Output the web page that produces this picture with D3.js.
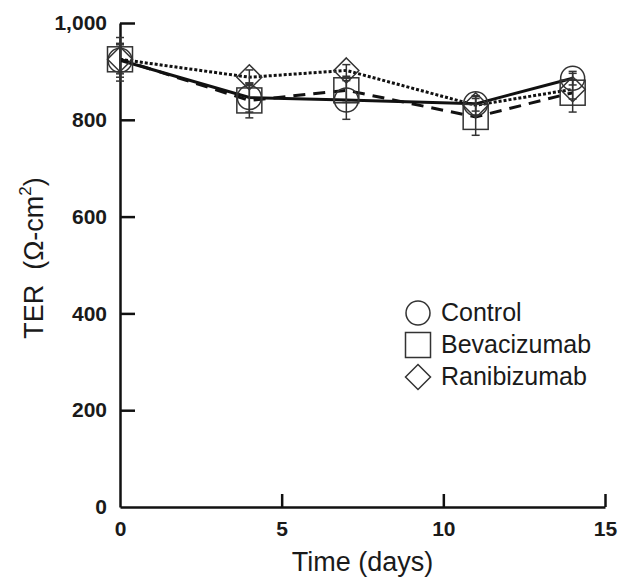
<!DOCTYPE html>
<meta charset="utf-8">
<style>
body { margin: 0; background: #fff; }
svg { font-family: "Liberation Sans", Arial, sans-serif; }
.axis path, .axis line { stroke: #111; stroke-width: 2.5px; }
.axis text { font-size: 21px; font-weight: bold; fill: #1a1a1a; }
.title { font-size: 27px; fill: #1a1a1a; }
.legend text { font-size: 25px; fill: #1a1a1a; }
</style>
<body>
<script src="https://d3js.org/d3.v7.min.js"></script>
<script>

// days measured
var days = [0, 4, 7, 11, 14];

var seriesNames = ["Control", "Bevacizumab", "Ranibizumab"];
var control = [923, 846, 841, 833, 886];
var controlErr = [35, 30, 40, 15, 14];
var bevacizumab = [925, 840, 861, 806, 856];
var bevacizumabErr = [45, 36, 25, 38, 40];
var ranibizumab = [925, 888, 902, 830, 863];
var ranibizumabErr = [30, 15, 12, 20, 20];

var xTicks = [0, 5, 10, 15];
var yTicks = [0, 200, 400, 600, 800, 1000];

var w = 628, h = 581;
var margin = {top: 23, right: 23, bottom: 74, left: 120},
    width = w - margin.left - margin.right,
    height = h - margin.top - margin.bottom;

var svg = d3.select("body").append("svg")
    .attr("width", w)
    .attr("height", h);

var g = svg.append("g")
    .attr("transform", "translate(" + margin.left + "," + margin.top + ")");

var x = d3.scaleLinear().domain([0, 15]).range([0, width]);
var y = d3.scaleLinear().domain([0, 1000]).range([height, 0]);

// axes, ticks pointing inward
g.append("g")
    .attr("class", "axis")
    .attr("transform", "translate(0," + height + ")")
    .call(d3.axisBottom(x).tickValues(xTicks).tickSizeInner(-13).tickSizeOuter(0).tickPadding(14))
    .call(function(a) { a.selectAll(".tick").filter(function(d) { return d === 0; }).select("line").remove(); });

g.append("g")
    .attr("class", "axis")
    .call(d3.axisLeft(y).tickValues(yTicks).tickFormat(d3.format(",")).tickSizeInner(-15).tickSizeOuter(0).tickPadding(13))
    .call(function(a) { a.selectAll(".tick").filter(function(d) { return d === 0; }).select("line").remove(); });

g.selectAll(".axis").attr("font-size", null).attr("font-family", null);

// axis titles
svg.append("text")
    .attr("class", "title")
    .attr("x", margin.left + width / 2)
    .attr("y", 571)
    .attr("text-anchor", "middle")
    .text("Time (days)");

var yt = svg.append("text")
    .attr("class", "title")
    .attr("transform", "translate(43,258) rotate(-90)")
    .attr("text-anchor", "middle");
yt.append("tspan").text("TER\u00A0\u00A0(\u03A9-cm");
yt.append("tspan").attr("font-size", "17px").attr("dy", "-12").text("2");
yt.append("tspan").attr("dy", "12").text(")");

var series = [
    {name: seriesNames[0], values: control, err: controlErr, shape: "circle", dash: null},
    {name: seriesNames[1], values: bevacizumab, err: bevacizumabErr, shape: "square", dash: "12,8"},
    {name: seriesNames[2], values: ranibizumab, err: ranibizumabErr, shape: "diamond", dash: "3,2"}
];

var line = d3.line()
    .x(function(d, i) { return x(days[i]); })
    .y(function(d) { return y(d); });

function drawMarker(sel, shape, cx, cy) {
    if (shape === "circle") {
        sel.append("circle").attr("cx", cx).attr("cy", cy).attr("r", 12);
    } else if (shape === "square") {
        sel.append("rect").attr("x", cx - 12.5).attr("y", cy - 12.5).attr("width", 25).attr("height", 25);
    } else {
        sel.append("path").attr("d", "M" + cx + "," + (cy - 12.5) + "L" + (cx + 12.5) + "," + cy +
            "L" + cx + "," + (cy + 12.5) + "L" + (cx - 12.5) + "," + cy + "Z");
    }
}

series.forEach(function(s) {
    g.append("path")
        .datum(s.values)
        .attr("fill", "none")
        .attr("stroke", "#111")
        .attr("stroke-width", 3)
        .attr("stroke-dasharray", s.dash)
        .attr("d", line);
});

series.forEach(function(s) {
    var m = g.append("g")
        .attr("fill", "none")
        .attr("stroke", "#333")
        .attr("stroke-width", 1.5);
    s.values.forEach(function(v, i) {
        var cx = x(days[i]);
        var e = s.err[i];
        m.append("line").attr("x1", cx).attr("x2", cx).attr("y1", y(v - e)).attr("y2", y(v + e));
        m.append("line").attr("x1", cx - 4).attr("x2", cx + 4).attr("y1", y(v - e)).attr("y2", y(v - e));
        m.append("line").attr("x1", cx - 4).attr("x2", cx + 4).attr("y1", y(v + e)).attr("y2", y(v + e));
        drawMarker(m, s.shape, cx, y(v));
    });
});

// legend
var legend = svg.append("g").attr("class", "legend");
series.forEach(function(s, i) {
    var ly = 313 + i * 32;
    var lm = legend.append("g").attr("fill", "none").attr("stroke", "#333").attr("stroke-width", 1.5);
    drawMarker(lm, s.shape, 418, ly);
    legend.append("text")
        .attr("x", 441)
        .attr("y", ly + 8)
        .text(s.name);
});

</script>
</body>
